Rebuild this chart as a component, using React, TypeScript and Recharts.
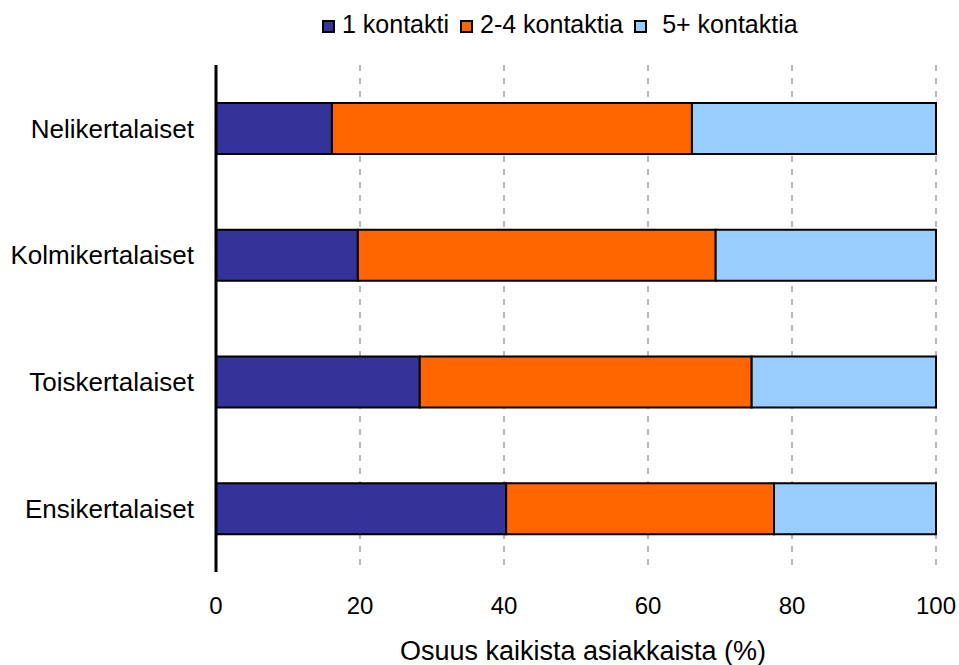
import React from "react";
import { BarChart, Bar, XAxis, YAxis, CartesianGrid, Legend, Label } from "recharts";

const categories = ["Nelikertalaiset", "Kolmikertalaiset", "Toiskertalaiset", "Ensikertalaiset"];
const oneContact = [16.1, 19.7, 28.3, 40.3];
const twoToFour = [50.0, 49.7, 46.1, 37.2];
const fivePlus = [33.9, 30.6, 25.6, 22.5];
const xTicks = [0, 20, 40, 60, 80, 100];

const seriesNames = ["1 kontakti", "2-4 kontaktia", "5+ kontaktia"];
const seriesColors = ["#333399", "#FF6600", "#99CCFF"];

const data = categories.map((name, i) => ({
  name,
  a: oneContact[i],
  b: twoToFour[i],
  c: fivePlus[i],
}));

const FONT = "'Liberation Sans', Arial, sans-serif";

function LegendContent() {
  return (
    <div
      style={{
        display: "flex",
        fontFamily: FONT,
        fontSize: 25,
        lineHeight: "28px",
        height: 28,
        color: "#000",
        paddingLeft: 322,
        whiteSpace: "nowrap",
      }}
    >
      {seriesNames.map((n, i) => (
        <span key={n} style={{ marginRight: 11 }}>
          <span
            style={{
              display: "inline-block",
              width: 13,
              height: 13,
              boxSizing: "border-box",
              border: "2px solid #000",
              background: seriesColors[i],
              verticalAlign: "baseline",
              marginRight: i === 2 ? 15 : 7,
            }}
          />
          {n}
        </span>
      ))}
    </div>
  );
}

export default function App() {
  return (
    <div style={{ position: "absolute", left: 0, top: 0 }}>
      <BarChart
        width={959}
        height={665}
        data={data}
        layout="vertical"
        margin={{ top: 37, right: 23, bottom: 0, left: 0 }}
        barCategoryGap="30%"
      >
        <CartesianGrid
          horizontal={false}
          stroke="#707070"
          strokeDasharray="6 7"
        />
        <XAxis
          type="number"
          domain={[0, 100]}
          ticks={xTicks}
          axisLine={false}
          tickLine={false}
          tickSize={23}
          tickMargin={2}
          height={93}
          tick={{ fill: "#000", fontSize: 24, fontFamily: FONT }}
        >
          <Label
            value="Osuus kaikista asiakkaista (%)"
            position="insideBottom"
            offset={5}
            dx={7}
            style={{ fill: "#000", fontSize: 27, fontFamily: FONT }}
          />
        </XAxis>
        <YAxis
          type="category"
          dataKey="name"
          width={216}
          axisLine={{ stroke: "#000", strokeWidth: 3 }}
          tickLine={false}
          tickSize={20}
          tickMargin={2}
          tick={{ fill: "#000", fontSize: 26, fontFamily: FONT }}
        />
        <Legend
          verticalAlign="top"
          content={<LegendContent />}
          wrapperStyle={{ top: 10, left: 0, width: 959 }}
        />
        <Bar dataKey="a" name={seriesNames[0]} stackId="s" fill={seriesColors[0]} stroke="#000" strokeWidth={2} isAnimationActive={false} />
        <Bar dataKey="b" name={seriesNames[1]} stackId="s" fill={seriesColors[1]} stroke="#000" strokeWidth={2} isAnimationActive={false} />
        <Bar dataKey="c" name={seriesNames[2]} stackId="s" fill={seriesColors[2]} stroke="#000" strokeWidth={2} isAnimationActive={false} />
      </BarChart>
    </div>
  );
}
